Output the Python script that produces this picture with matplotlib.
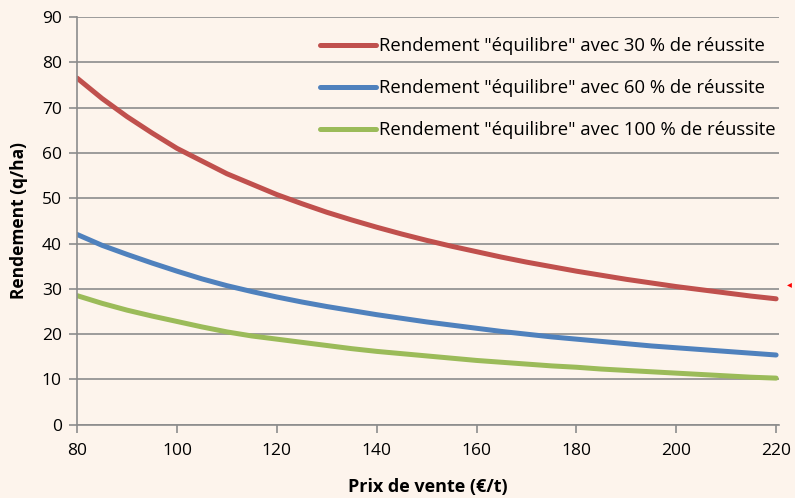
import matplotlib.pyplot as plt

plt.rcParams['font.family'] = ['Open Sans', 'DejaVu Sans']

prix = [80, 85, 90, 95, 100, 105, 110, 115, 120, 125, 130, 135, 140, 145, 150,
        155, 160, 165, 170, 175, 180, 185, 190, 195, 200, 205, 210, 215, 220]
rdt_30 = [76.5, 72.0, 68.0, 64.4, 61.0, 58.2, 55.4, 53.1, 50.8, 48.8, 46.9, 45.2, 43.6, 42.1, 40.7,
          39.4, 38.2, 37.0, 35.9, 34.9, 33.9, 33.0, 32.1, 31.3, 30.5, 29.8, 29.1, 28.4, 27.8]
rdt_60 = [42.0, 39.6, 37.6, 35.7, 33.9, 32.2, 30.7, 29.4, 28.2, 27.1, 26.1, 25.2, 24.3, 23.5, 22.7,
          22.0, 21.3, 20.6, 20.0, 19.4, 18.9, 18.4, 17.9, 17.4, 17.0, 16.6, 16.2, 15.8, 15.4]
rdt_100 = [28.5, 26.8, 25.3, 24.0, 22.8, 21.6, 20.5, 19.6, 18.9, 18.2, 17.5, 16.8, 16.2, 15.7, 15.2,
           14.7, 14.2, 13.8, 13.4, 13.0, 12.7, 12.3, 12.0, 11.7, 11.4, 11.1, 10.8, 10.5, 10.3]

labels = ['Rendement "équilibre" avec 30 % de réussite',
          'Rendement "équilibre" avec 60 % de réussite',
          'Rendement "équilibre" avec 100 % de réussite']

bg = '#fdf4ec'
fig = plt.figure(figsize=(7.95, 4.98), dpi=100, facecolor=bg)
ax = fig.add_axes([0.097, 0.147, 0.883, 0.819], facecolor=bg)

ax.plot(prix, rdt_30, color='#c0504d', lw=3.6, solid_capstyle='round', label=labels[0])
ax.plot(prix, rdt_60, color='#4f81bd', lw=3.6, solid_capstyle='round', label=labels[1])
ax.plot(prix, rdt_100, color='#9bbb59', lw=3.6, solid_capstyle='round', label=labels[2])

ax.set_xlim(80, 220.6)
ax.set_ylim(0, 90)
ax.set_xticks(range(80, 221, 20))
ax.set_yticks(range(0, 91, 10))
ax.grid(axis='y', color='#8c8c8c', lw=1.2)
ax.set_axisbelow(True)
for s in ['top', 'right']:
    ax.spines[s].set_visible(False)
for s in ['left', 'bottom']:
    ax.spines[s].set_color('#8c8c8c')
    ax.spines[s].set_linewidth(1.2)
ax.tick_params(colors='#8c8c8c', labelcolor='black', labelsize=12.5, length=6, width=1.2)
ax.tick_params(axis='x', pad=7)
ax.tick_params(axis='y', pad=5)

ax.set_xlabel('Prix de vente (€/t)', fontsize=13, fontweight='bold', labelpad=14)
ax.set_ylabel('Rendement (q/ha)', fontsize=12.5, fontweight='bold', labelpad=10)

ax.legend(loc='upper right', frameon=False, fontsize=13.3, handlelength=3.0,
          handletextpad=0.2, labelspacing=1.3, borderaxespad=0.0,
          bbox_to_anchor=(1.006, 0.968))

fig.text(0.993, 0.43, '◂', color='red', fontsize=7, ha='center', va='center',
         family=['DejaVu Sans'])

fig.savefig('out.png', dpi=100, facecolor=bg)
